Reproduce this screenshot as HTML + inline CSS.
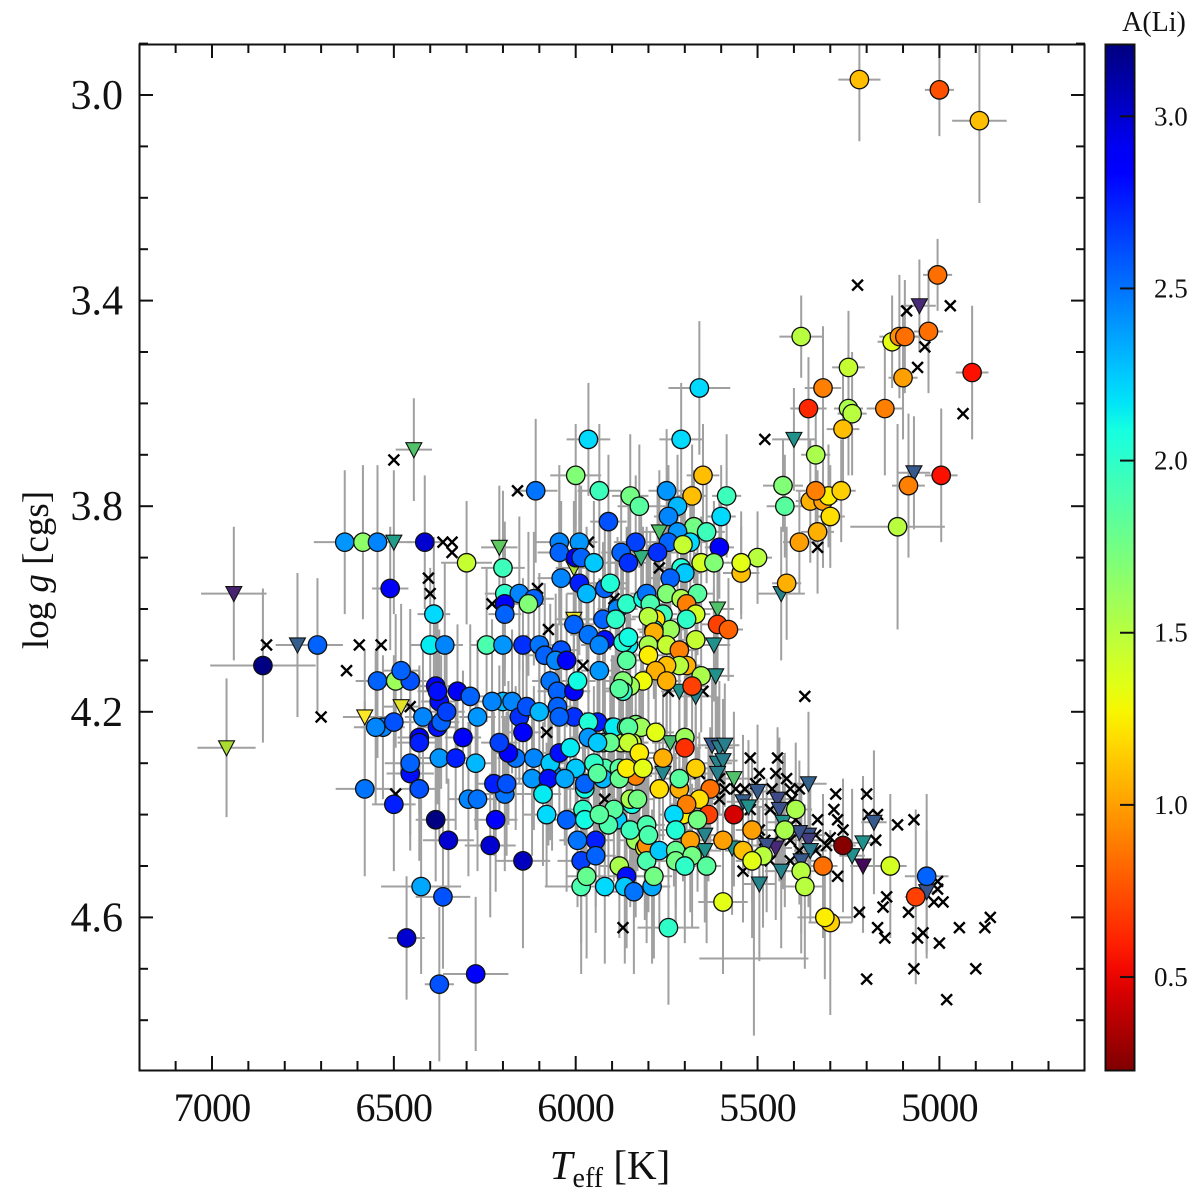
<!DOCTYPE html>
<html>
<head>
<meta charset="utf-8">
<title>Teff vs log g coloured by A(Li)</title>
<style>
html,body{margin:0;padding:0;background:#fff;}
svg{display:block;}
text{font-family:"Liberation Serif","DejaVu Serif",serif;fill:#111;}
</style>
</head>
<body>
<svg id="chart" xmlns="http://www.w3.org/2000/svg" width="1200" height="1193" viewBox="0 0 1200 1193">
<defs>
<clipPath id="plot-clip"><rect x="139" y="44" width="946" height="1027"></rect></clipPath>
<linearGradient id="jet-gradient" x1="0" y1="1" x2="0" y2="0"></linearGradient>
</defs>
<g id="error-bars" clip-path="url(#plot-clip)"></g>
<g id="crosses" clip-path="url(#plot-clip)"></g>
<g id="triangles" clip-path="url(#plot-clip)"></g>
<g id="circles" clip-path="url(#plot-clip)"></g>
<rect x="139.5" y="44.5" width="945" height="1026" fill="none" stroke="#111" stroke-width="2"></rect>
<g id="ticks"></g>
<g id="tick-labels"></g>
<text x="610" y="1179" font-size="41" text-anchor="middle"><tspan font-style="italic">T</tspan><tspan font-size="28" dy="8">eff</tspan><tspan dy="-8"> [K]</tspan></text>
<text transform="translate(48,570) rotate(-90)" font-size="37" text-anchor="middle">log <tspan font-style="italic">g</tspan> [cgs]</text>
<rect x="1105.5" y="44.5" width="29" height="1026" fill="url(#jet-gradient)" stroke="#111" stroke-width="2"></rect>
<g id="colorbar-ticks"></g>
<text x="1154" y="31" font-size="28" text-anchor="middle">A(Li)</text>
</svg>
<script>
// ---- detections (circles) ----
const circleTeff = [
5220,5000,4890,5005,5380,5130,5110,5095,5030,5100,4910,5250,5320,5360,5250,5240,5150,5265,5340,4995,5085,5430,5425,5355,5320,5305,5270,5340,5300,5335,5385,5115,5420,5500,5545,5545,
5660,5710,5965,6000,5650,5935,5850,5825,5750,5680,
5585,6110,5720,5745,5600,5910,5675,5640,5720,5745,
5685,5705,5835,5605,5775,5875,5855,6045,5990,6045,
6000,5985,5950,5655,5620,6040,5990,5970,5920,5905,
5710,5700,5740,6200,6300,6195,6155,6115,6130,6195,
6195,6390,6400,6360,6245,6200,6145,6100,6085,6040,
6055,6025,6070,6050,6005,5995,5935,6005,5965,5920,
5935,5925,5885,5890,5860,5815,5805,5795,5750,5710,
5665,5695,5670,5695,5760,5610,5580,5740,5780,5785,
5800,5785,5670,5800,5750,5715,5800,5695,5715,5750,
5780,5750,5655,5680,5815,5850,5870,5870,5880,5855,
5870,5855,5860,
6635,6585,6545,6415,6510,6710,6860,6545,6495,6455,
6480,6385,6580,6530,6550,6500,6500,6455,6455,6430,
6430,6430,6420,6375,6330,6310,6380,6375,6380,6370,
6355,6325,6290,6270,6200,6230,6175,6155,6135,6100,
6145,6165,6185,6210,6115,6065,6070,6120,6075,6090,
6295,6270,6275,6195,6225,6190,6220,6385,6350,6235,
6145,6425,6365,6465,6375,6275,
5835,5820,5875,5845,5925,5900,5920,5880,5835,5845,
6080,6025,5995,5945,5985,5945,5985,5970,5920,5880,
5860,5865,5840,6045,6015,6000,6030,5975,5975,6005,
5940,5965,5965,5895,5860,5905,5940,5925,5950,5940,
5880,5860,6050,6045,5780,5700,5700,5760,5855,5855,
5825,5815,5670,5715,5715,5770,5630,5850,5830,5980,
5975,5885,5895,5910,5935,5835,5850,5810,5805,5805,
5800,5805,5770,5790,5785,5705,5660,5695,5635,5665,
5730,5725,5685,5725,5725,5680,5700,5640,5595,5595,
5565,5745,5515,5425,5395,5540,5485,5515,5380,5370,
5320,5265,5135,5035,5065,5300,5315
];
const circleLogg = [
2.97,2.99,3.05,3.35,3.47,3.48,3.47,3.47,3.46,3.55,3.54,3.53,3.57,3.61,3.61,3.62,3.61,3.65,3.70,3.74,3.76,3.76,3.80,3.79,3.79,3.78,3.77,3.77,3.82,3.85,3.87,3.84,3.95,3.90,3.93,3.91,
3.57,3.67,3.67,3.74,3.74,3.77,3.78,3.80,3.77,3.78,
3.78,3.77,3.80,3.82,3.82,3.83,3.84,3.85,3.85,3.87,
3.87,3.875,3.87,3.88,3.89,3.89,3.91,3.87,3.87,3.89,
3.90,3.90,3.91,3.91,3.91,3.94,3.95,3.97,3.96,3.95,
3.92,3.93,3.94,3.92,3.91,3.97,3.97,3.98,3.99,3.99,
4.01,4.01,4.07,4.07,4.07,4.07,4.07,4.07,4.09,4.08,
4.10,4.10,4.14,4.16,4.16,4.14,4.12,4.03,4.05,4.06,
4.07,4.02,4.00,4.02,3.99,3.98,3.97,3.99,3.97,3.98,
3.97,3.99,4.01,4.02,4.01,4.03,4.04,4.04,4.02,4.04,
4.015,4.045,4.06,4.07,4.07,4.08,4.09,4.11,4.11,4.11,
4.12,4.14,4.13,4.15,4.14,4.15,4.14,4.16,4.155,4.07,
4.065,4.055,4.10,
3.87,3.87,3.87,3.87,3.96,4.07,4.11,4.14,4.14,4.14,
4.12,4.15,4.35,4.23,4.23,4.22,4.38,4.32,4.30,4.35,
4.25,4.26,4.21,4.29,4.29,4.25,4.23,4.18,4.16,4.22,
4.20,4.16,4.17,4.21,4.18,4.18,4.18,4.21,4.19,4.20,
4.24,4.29,4.28,4.26,4.29,4.32,4.30,4.33,4.33,4.36,
4.37,4.37,4.30,4.36,4.34,4.34,4.41,4.41,4.45,4.46,
4.49,4.54,4.56,4.64,4.73,4.71,
4.225,4.23,4.26,4.26,4.26,4.23,4.31,4.31,4.325,4.38,
4.40,4.41,4.45,4.45,4.49,4.48,4.54,4.52,4.54,4.50,
4.52,4.54,4.55,4.28,4.27,4.31,4.33,4.35,4.34,4.21,
4.22,4.22,4.25,4.23,4.23,4.26,4.26,4.33,4.30,4.32,
4.33,4.31,4.19,4.21,4.24,4.25,4.27,4.29,4.23,4.26,
4.28,4.31,4.31,4.35,4.33,4.35,4.35,4.37,4.37,4.39,
4.41,4.41,4.39,4.42,4.40,4.45,4.43,4.465,4.46,4.42,
4.44,4.49,4.47,4.54,4.52,4.40,4.37,4.38,4.40,4.41,
4.40,4.43,4.45,4.47,4.49,4.48,4.50,4.50,4.57,4.45,
4.40,4.62,4.43,4.43,4.39,4.47,4.48,4.49,4.51,4.54,
4.50,4.46,4.50,4.52,4.56,4.61,4.60
];
const circleALi = [
1.1,.75,1.1,.85,1.5,1.35,.95,.85,.85,1.0,.55,1.45,.9,.62,1.55,1.5,.9,1.1,1.55,.55,.9,1.7,1.85,1.05,1.0,1.25,1.15,.9,1.2,1.05,1.0,1.5,1.05,1.5,1.1,1.35,
2.2,2.2,2.2,1.7,1.1,1.95,1.75,1.85,2.4,1.1,
1.95,2.5,2.3,2.45,2.2,2.6,1.75,1.95,2.4,2.55,
2.2,1.45,2.65,2.85,2.7,2.55,2.7,2.45,2.4,2.55,
2.85,2.55,2.25,1.4,1.7,2.45,2.75,2.3,2.55,2.05,
2.05,2.25,2.55,1.95,1.45,2.0,2.45,2.55,1.7,2.85,
2.55,2.2,2.15,2.45,1.9,2.4,2.7,2.5,2.55,2.6,
2.45,2.85,2.5,2.55,2.85,2.1,2.4,2.55,2.5,2.8,
2.45,2.55,2.45,2.0,2.0,2.1,2.5,1.9,1.7,1.55,
1.85,.9,1.4,2.0,1.95,.7,.8,1.6,1.2,2.05,
1.5,1.05,1.45,1.55,1.45,.9,1.25,1.05,1.5,1.1,
1.05,1.05,1.55,.7,1.3,1.6,1.7,2.0,1.85,2.15,
2.05,2.1,1.85,
2.4,1.65,2.45,3.0,2.9,2.55,3.2,2.55,1.6,2.6,
2.55,2.85,2.5,2.45,2.45,2.6,2.75,2.8,2.55,2.6,
2.9,2.75,2.45,2.4,2.75,2.85,2.8,2.8,2.8,2.55,
2.65,2.9,2.55,2.4,2.3,2.45,2.45,2.7,2.6,2.3,
2.85,2.5,2.85,2.65,2.45,2.45,2.25,2.4,2.8,2.15,
2.45,2.5,2.3,2.5,2.75,2.6,2.85,3.2,3.0,3.0,
3.05,2.35,2.6,3.0,2.6,2.85,
1.7,1.6,1.5,1.45,1.85,2.1,1.9,1.85,.9,2.1,
2.2,2.55,2.5,2.75,2.65,2.55,1.9,1.8,2.2,1.55,
2.8,2.25,2.5,2.8,2.15,2.25,2.35,2.1,2.55,2.7,
2.75,2.05,2.4,2.15,1.85,1.8,2.25,2.3,2.0,1.85,
1.8,1.25,2.55,2.55,1.35,1.6,.65,1.05,1.85,1.45,
1.25,1.35,1.15,1.05,1.85,1.2,.85,1.55,1.75,2.0,
2.1,2.25,1.85,1.9,1.85,1.6,1.95,1.35,.95,1.9,
1.9,1.9,2.25,2.35,1.75,1.25,1.2,.9,.7,1.75,
2.2,2.05,1.0,1.8,1.75,1.75,2.0,1.85,1.35,1.0,
.45,2.0,1.0,1.55,1.55,1.1,1.5,1.35,1.5,1.5,
.85,.25,1.4,2.55,.7,1.15,1.25
];
const circleTeffErr = [
58,40,75,40,60,40,55,40,40,40,45,45,50,50,40,40,50,45,40,45,45,55,50,40,40,35,40,55,40,45,45,130,40,40,50,40,
85,60,60,70,45,60,50,60,50,40,
40,60,45,40,40,50,40,50,45,55,
45,40,60,40,55,55,60,65,50,60,
55,55,70,40,45,65,50,55,65,50,
50,45,55,60,70,55,50,55,45,40,
45,45,55,50,45,50,45,50,55,50,
50,45,50,55,45,50,50,55,50,45,
50,50,55,55,50,50,45,45,45,50,
45,40,40,45,40,45,40,45,40,45,
45,40,45,50,40,45,45,40,45,45,
45,40,40,40,50,45,50,50,45,50,
45,45,45,
85,50,55,50,50,70,145,60,40,45,
50,50,80,60,60,55,60,65,70,55,
60,60,50,60,55,50,55,50,55,50,
50,50,50,50,50,50,45,50,50,55,
50,50,45,50,55,55,55,50,45,50,
55,50,55,55,50,50,60,55,70,70,
75,110,75,50,40,90,
45,45,45,45,50,50,50,50,45,45,
65,55,50,50,65,55,100,55,65,55,
50,55,65,50,50,50,55,50,50,50,
50,45,50,50,45,45,50,50,55,50,
45,45,50,50,50,40,45,40,50,50,
50,45,40,40,45,45,45,50,45,50,
50,45,45,50,50,50,45,45,45,50,
45,50,50,50,50,40,45,45,45,45,
40,45,45,45,50,45,50,40,68,40,
45,85,45,50,45,50,50,45,50,55,
40,35,45,60,30,60,75
];
const circleLoggErr = [
.12,.09,.16,.07,.08,.09,.12,.11,.12,.12,.13,.11,.12,.1,.13,.12,.13,.12,.1,.13,.14,.09,.1,.12,.13,.1,.1,.1,.1,.12,.1,.2,.11,.09,.09,.1,
.13,.11,.11,.1,.1,.13,.12,.12,.12,.1,
.12,.14,.1,.1,.1,.13,.11,.1,.12,.13,
.11,.1,.13,.1,.13,.12,.13,.15,.13,.14,
.13,.14,.12,.09,.12,.15,.14,.13,.14,.13,
.11,.13,.12,.15,.12,.14,.15,.13,.14,.13,
.14,.15,.15,.16,.15,.16,.13,.14,.14,.14,
.13,.13,.15,.13,.14,.13,.14,.14,.13,.14,
.13,.15,.14,.13,.15,.14,.13,.14,.13,.12,
.12,.13,.12,.13,.14,.11,.1,.13,.12,.13,
.14,.13,.12,.13,.13,.12,.13,.12,.12,.13,
.12,.13,.11,.1,.13,.14,.13,.14,.13,.13,
.14,.13,.14,
.14,.15,.15,.13,.12,.13,.15,.15,.13,.14,
.13,.14,.17,.14,.15,.13,.13,.15,.14,.14,
.14,.14,.14,.16,.14,.13,.15,.14,.14,.13,
.14,.13,.14,.15,.15,.16,.14,.13,.14,.15,
.14,.14,.14,.15,.14,.15,.15,.15,.13,.14,
.15,.14,.13,.15,.14,.14,.14,.12,.12,.14,
.17,.17,.14,.12,.15,.15,
.14,.14,.14,.13,.14,.14,.15,.14,.13,.14,
.14,.14,.13,.13,.16,.15,.17,.16,.15,.14,
.14,.15,.16,.14,.14,.15,.13,.14,.14,.14,
.13,.15,.14,.14,.14,.13,.14,.15,.15,.14,
.14,.14,.14,.13,.13,.12,.12,.13,.14,.13,
.14,.14,.12,.14,.13,.13,.12,.13,.14,.14,
.15,.14,.14,.14,.15,.15,.15,.14,.14,.14,
.15,.16,.15,.15,.16,.13,.13,.13,.13,.14,
.14,.15,.14,.16,.14,.14,.15,.15,.14,.13,
.14,.15,.14,.15,.13,.14,.14,.15,.16,.16,
.14,.13,.14,.16,.17,.18,.12
];

// ---- upper limits (triangles) ----
const limitTeff = [
6940,6765,6960,6500,6580,6480,6445,6210,6005,6005,
5770,5820,5610,5620,5615,5715,5670,5435,5055,5070,
5400,5625,5605,5590,5610,5595,5610,5565,5360,5500,
5540,5525,5445,5440,5430,5180,5210,5360,5360,5385,
5355,5240,5210,5450,5475,5435,5380,5495,5570,5645,
5645,5740,5760,5035
];
const limitLogg = [
3.97,4.07,4.27,3.87,4.21,4.19,3.69,3.88,3.92,4.02,
3.85,3.90,4.00,4.07,4.13,4.16,4.17,3.97,3.41,3.735,
3.67,4.265,4.27,4.265,4.30,4.295,4.32,4.33,4.34,4.355,
4.375,4.385,4.37,4.39,4.415,4.415,4.455,4.44,4.45,4.435,
4.47,4.48,4.50,4.465,4.46,4.51,4.49,4.535,4.465,4.44,
4.47,4.26,4.32,4.55
];
const limitALi = [
.53,1.12,2.85,1.87,3.2,3.1,2.38,2.47,2.85,3.15,
2.38,2.17,2.38,1.72,1.72,1.72,1.57,1.57,.59,1.06,
1.72,1.06,1.5,1.5,1.57,1.5,1.5,2.38,1.18,1.06,
1.12,1.72,.89,.97,1.72,1.06,1.72,.97,.77,.97,
1.42,1.72,.29,.59,.97,1.57,1.06,1.57,1.72,1.57,
1.72,2.3,1.6,1.0
];
const limitTeffErr = [
90,60,80,50,60,50,50,50,50,50,
50,50,45,45,50,50,50,65,45,45,
60,40,40,40,40,40,40,50,50,50,
45,45,50,45,45,35,40,45,45,45,
45,35,35,45,45,45,50,45,45,45,
45,50,45,30
];
const limitLoggErr = [
.13,.14,.135,.14,.13,.13,.1,.12,.13,.12,
.12,.12,.11,.11,.12,.13,.12,.13,.09,.11,
.1,.13,.13,.12,.13,.12,.12,.13,.14,.13,
.13,.13,.14,.14,.13,.14,.13,.13,.13,.14,
.14,.13,.13,.14,.13,.15,.14,.15,.13,.13,
.14,.13,.13,.12
];

// ---- bars without a visible marker ----
const orphanTeff = [5510];
const orphanLogg = [4.68];
const orphanTeffErr = [150];
const orphanLoggErr = [.15];

// ---- no measurement (crosses) ----
const crossTeff = [
5225,5090,4970,5040,5060,4935,5480,6500,6160,5335,
6365,6340,6340,6405,6400,6850,6595,6535,6630,6700,
6455,6495,6230,6075,5980,5965,5770,5895,5745,5650,
6105,5370,6080,5920,5870,5520,5445,5285,5200,5290,
5335,5280,5070,5115,5170,5195,5265,5175,5310,5280,
5540,5145,5155,5220,5085,5015,4990,5005,5005,5170,
5150,5045,5060,4945,4860,4875,5000,5070,4900,4980,
5200,5450,5460,5410,5495,5535,5505,5420,5405,5385,
5465,5395,5520,5410,5480,5440,5465,5385,5410,5495,
5340,5590,5605,5560,5300,5340,5660,5605
];
const crossLogg = [
3.37,3.42,3.41,3.49,3.53,3.62,3.67,3.71,3.77,3.88,
3.87,3.87,3.89,3.94,3.97,4.07,4.07,4.07,4.12,4.21,
4.19,4.36,3.99,4.04,4.11,3.87,3.92,3.98,4.16,4.16,
3.96,4.17,4.24,4.37,4.62,4.29,4.29,4.36,4.36,4.39,
4.41,4.41,4.41,4.42,4.40,4.40,4.43,4.45,4.46,4.52,
4.51,4.56,4.58,4.59,4.59,4.57,4.57,4.53,4.545,4.62,
4.64,4.63,4.64,4.62,4.60,4.62,4.65,4.70,4.70,4.76,
4.72,4.32,4.35,4.35,4.32,4.35,4.34,4.33,4.37,4.35,
4.39,4.41,4.39,4.45,4.45,4.44,4.49,4.47,4.49,4.43,
4.44,4.35,4.37,4.35,4.445,4.47,4.32,4.33
];

// ---- axes and colour scale ----
const xMajorTicks = [7000,6500,6000,5500,5000];
const xMinorTicks = [7100,6900,6800,6700,6600,6400,6300,6200,6100,5900,5800,5700,5600,5400,5300,5200,5100,4900,4800,4700];
const yMajorTicks = [3.0,3.4,3.8,4.2,4.6];
const yMinorTicks = [2.9,3.1,3.2,3.3,3.5,3.6,3.7,3.9,4.0,4.1,4.3,4.4,4.5,4.7,4.8];
const xTickLabels = ['7000','6500','6000','5500','5000'];
const yTickLabels = ['3.0','3.4','3.8','4.2','4.6'];
const cbarTicks = [3.0,2.5,2.0,1.5,1.0,0.5];
const cbarTickLabels = ['3.0','2.5','2.0','1.5','1.0','0.5'];
const cbarMin = 0.23;
const cbarMax = 3.21;

const SVG_NS = 'http://www.w3.org/2000/svg';
function xScale(t){ return 212 + (7000 - t) * 0.3637; }
function yScale(g){ return 95 + (g - 3) * 514; }
function cbarScale(a){ return 1070 - (a - cbarMin) / (cbarMax - cbarMin) * 1026; }
function make(tag, parent, attrs){
  const el = document.createElementNS(SVG_NS, tag);
  for (const k in attrs) el.setAttribute(k, attrs[k]);
  parent.appendChild(el);
  return el;
}
function interp(knots, v){
  for (let i = 1; i < knots.length; i++){
    if (v <= knots[i][0]){
      const a = knots[i-1], b = knots[i];
      return a[1] + (b[1] - a[1]) * (v - a[0]) / (b[0] - a[0]);
    }
  }
  return knots[knots.length-1][1];
}
const jetR = [[0,0],[.35,0],[.66,1],[.89,1],[1,.5]];
const jetG = [[0,0],[.125,0],[.375,1],[.64,1],[.91,0],[1,0]];
const jetB = [[0,.5],[.11,1],[.34,1],[.65,0],[1,0]];
function reversedJet(a){
  const t = Math.max(0, Math.min(1, (cbarMax - a) / (cbarMax - cbarMin)));
  return 'rgb(' + Math.round(255*interp(jetR,t)) + ',' + Math.round(255*interp(jetG,t)) + ',' + Math.round(255*interp(jetB,t)) + ')';
}
const viridisR = [[0,68],[.13,71],[.25,59],[.38,44],[.5,33],[.63,39],[.75,94],[.88,170],[1,253]];
const viridisG = [[0,1],[.13,44],[.25,82],[.38,114],[.5,145],[.63,173],[.75,201],[.88,220],[1,231]];
const viridisB = [[0,84],[.13,122],[.25,139],[.38,142],[.5,140],[.63,129],[.75,98],[.88,50],[1,37]];
function viridis(a){
  const t = Math.max(0, Math.min(1, (a - cbarMin) / (cbarMax - cbarMin)));
  return 'rgb(' + Math.round(interp(viridisR,t)) + ',' + Math.round(interp(viridisG,t)) + ',' + Math.round(interp(viridisB,t)) + ')';
}

const barsG = document.getElementById('error-bars');
const crossG = document.getElementById('crosses');
const triG = document.getElementById('triangles');
const circG = document.getElementById('circles');
const ticksG = document.getElementById('ticks');
const labelsG = document.getElementById('tick-labels');
const cbarG = document.getElementById('colorbar-ticks');

function drawBars(t, g, et, eg){
  const x = xScale(t), y = yScale(g);
  const style = {stroke:'#a0a0a0','stroke-width':2};
  const h = make('line', barsG, Object.assign({x1:xScale(t+et), x2:xScale(t-et), y1:y, y2:y}, style));
  
  
  const v = make('line', barsG, Object.assign({x1:x, x2:x, y1:yScale(g-eg), y2:yScale(g+eg)}, style));
  
  
}
circleTeff.forEach((t,i) => drawBars(t, circleLogg[i], circleTeffErr[i], circleLoggErr[i]));
limitTeff.forEach((t,i) => drawBars(t, limitLogg[i], limitTeffErr[i], limitLoggErr[i]));
orphanTeff.forEach((t,i) => drawBars(t, orphanLogg[i], orphanTeffErr[i], orphanLoggErr[i]));

crossTeff.forEach((t,i) => {
  const x = xScale(t), y = yScale(crossLogg[i]), s = 5.4;
  const p = make('path', crossG, {d:'M'+(x-s)+' '+(y-s)+'L'+(x+s)+' '+(y+s)+'M'+(x-s)+' '+(y+s)+'L'+(x+s)+' '+(y-s), stroke:'#000','stroke-width':2.4, fill:'none'});
  
  
});

limitTeff.forEach((t,i) => {
  const x = xScale(t), y = yScale(limitLogg[i]);
  const pts = (x-8)+','+(y-7)+' '+(x+8)+','+(y-7)+' '+x+','+(y+8);
  const p = make('polygon', triG, {points:pts, fill:viridis(limitALi[i]), stroke:'#111','stroke-width':1.1});
  
  
});

circleTeff.forEach((t,i) => {
  const c = make('circle', circG, {cx:xScale(t), cy:yScale(circleLogg[i]), r:9.2, fill:reversedJet(circleALi[i]), stroke:'#111','stroke-width':1.3});
  
  
});

function tickLine(x1, y1, x2, y2){
  const l = make('line', ticksG, {x1:x1, y1:y1, x2:x2, y2:y2, stroke:'#111','stroke-width':2});
  
  
}
xMajorTicks.forEach(t => { const x = xScale(t); tickLine(x,1070,x,1056); tickLine(x,44,x,58); });
xMinorTicks.forEach(t => { const x = xScale(t); tickLine(x,1070,x,1061); tickLine(x,44,x,53); });
yMajorTicks.forEach(g => { const y = yScale(g); tickLine(139,y,153,y); tickLine(1085,y,1071,y); });
yMinorTicks.forEach(g => { const y = yScale(g); tickLine(139,y,148,y); tickLine(1085,y,1076,y); });

xTickLabels.forEach((s,i) => {
  const el = make('text', labelsG, {x:xScale(xMajorTicks[i]), y:1121, 'font-size':40, 'text-anchor':'middle', 'letter-spacing':'-0.8'});
  el.textContent = s;
  
  
});
yTickLabels.forEach((s,i) => {
  const el = make('text', labelsG, {x:123, y:yScale(yMajorTicks[i])+14, 'font-size':42, 'text-anchor':'end'});
  el.textContent = s;
  
  
});

const grad = document.getElementById('jet-gradient');
for (let k = 0; k <= 40; k++){
  const a = cbarMin + (cbarMax - cbarMin) * k / 40;
  make('stop', grad, {offset:(k/40), 'stop-color':reversedJet(a)});
}
cbarTicks.forEach((a,i) => {
  const y = cbarScale(a);
  const l = make('line', cbarG, {x1:1120, x2:1135, y1:y, y2:y, stroke:'#111','stroke-width':2});
  
  
  const el = make('text', cbarG, {x:1154, y:y+9, 'font-size':27});
  el.textContent = cbarTickLabels[i];
  
  
});
</script>
</body>
</html>
